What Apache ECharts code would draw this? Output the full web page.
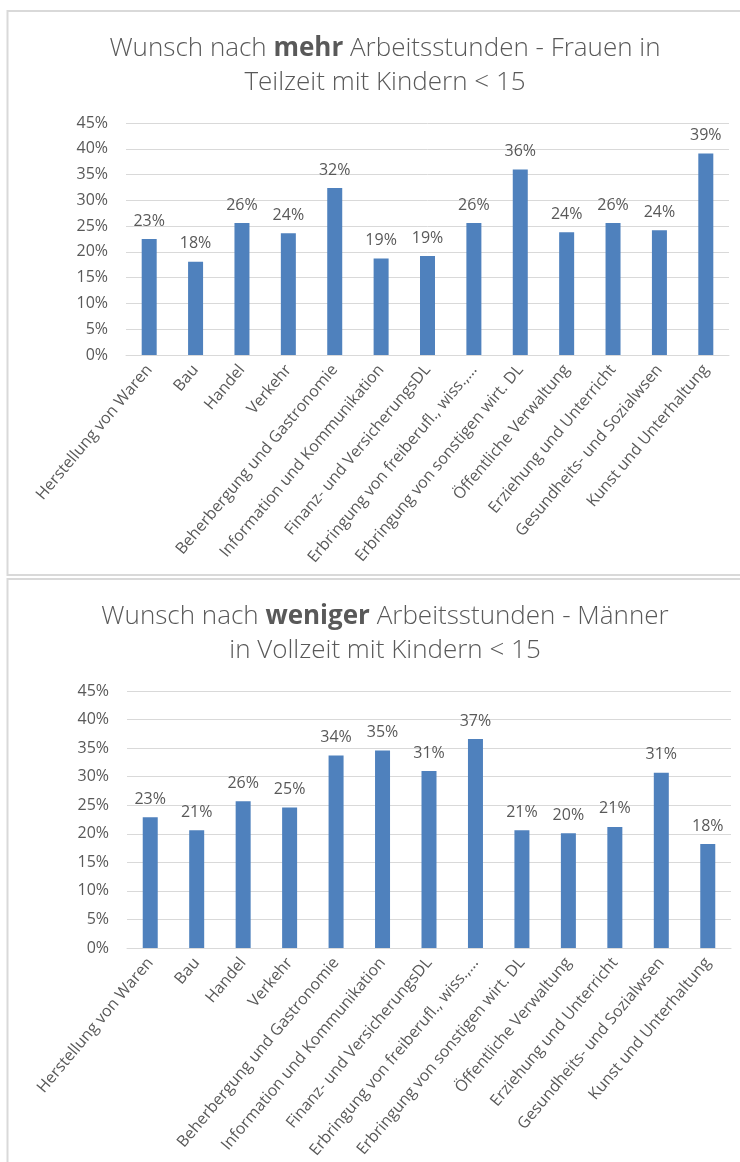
<!DOCTYPE html>
<html lang="de">
<head>
    <meta charset="UTF-8"/>
    <title>Arbeitsstunden</title>
    <script src="https://cdn.jsdelivr.net/npm/echarts@6/dist/echarts.min.js"></script>
    <style>
        html, body { margin: 0; padding: 0; background: #fff; }
    </style>
</head>
<body>
<div id="main" style="width: 740px; height: 1162px;"></div>

<script type="text/javascript">
    // Branchen (Achsenbeschriftung)
    var branchen = [
        'Herstellung von Waren',
        'Bau',
        'Handel',
        'Verkehr',
        'Beherbergung und Gastronomie',
        'Information und Kommunikation',
        'Finanz- und VersicherungsDL',
        'Erbringung von freiberufl., wiss.,…',
        'Erbringung von sonstigen wirt. DL',
        'Öffentliche Verwaltung',
        'Erziehung und Unterricht',
        'Gesundheits- und Sozialwsen',
        'Kunst und Unterhaltung'
    ];
    // Anteil in % - Frauen Teilzeit, Wunsch nach mehr Stunden
    var frauenMehr = [22.5, 18.1, 25.6, 23.6, 32.4, 18.7, 19.2, 25.6, 36.0, 23.8, 25.6, 24.2, 39.1];
    // Anteil in % - Männer Vollzeit, Wunsch nach weniger Stunden
    var maennerWeniger = [22.9, 20.6, 25.7, 24.6, 33.7, 34.6, 31.0, 36.6, 20.6, 20.1, 21.2, 30.7, 18.2];

    var schrift = '"Open Sans", "DejaVu Sans", sans-serif';
    var grau = '#595959';

    var myChart = echarts.init(document.getElementById('main'));

    function titel(fett, teil1, teil2, zeile2, top) {
        return {
            text: '{n|' + teil1 + '}{b|' + fett + '}{n|' + teil2 + '}\n{n|' + zeile2 + '}',
            left: 380,
            top: top,
            textAlign: 'center',
            textStyle: {
                rich: {
                    n: { fontFamily: schrift, fontSize: 26, fontWeight: 300, color: grau, lineHeight: 34 },
                    b: { fontFamily: schrift, fontSize: 26, fontWeight: 'bold', color: grau, lineHeight: 34 }
                }
            }
        };
    }

    function xAchse(idx) {
        return {
            type: 'category',
            gridIndex: idx,
            data: branchen,
            axisLine: { lineStyle: { color: '#d9d9d9', width: 1 } },
            axisTick: { show: false },
            axisLabel: {
                interval: 0,
                rotate: 50,
                margin: 12,
                fontFamily: schrift,
                fontSize: 16,
                color: grau
            }
        };
    }

    function yAchse(idx) {
        return {
            type: 'value',
            gridIndex: idx,
            min: 0,
            max: 45,
            interval: 5,
            axisLine: { show: false },
            axisTick: { show: false },
            splitLine: { lineStyle: { color: '#d9d9d9', width: 1 } },
            axisLabel: {
                margin: 18,
                formatter: '{value}%',
                fontFamily: schrift,
                fontSize: 16,
                color: grau
            }
        };
    }

    function serie(idx, werte) {
        return {
            type: 'bar',
            xAxisIndex: idx,
            yAxisIndex: idx,
            data: werte,
            barWidth: 15,
            itemStyle: { color: '#4f81bd' },
            label: {
                show: true,
                position: 'top',
                distance: 10,
                fontFamily: schrift,
                fontSize: 16,
                color: grau,
                formatter: function (p) {
                    return Math.round(p.value) + '%';
                }
            }
        };
    }

    var option = {
        animation: false,
        backgroundColor: '#ffffff',
        graphic: [
            { type: 'rect', shape: { x: 7.5, y: 11, width: 750, height: 564 }, style: { fill: 'none', stroke: '#d9d9d9', lineWidth: 2 } },
            { type: 'rect', shape: { x: 7.5, y: 579, width: 750, height: 600 }, style: { fill: 'none', stroke: '#d9d9d9', lineWidth: 2 } }
        ],
        title: [
            titel('mehr', 'Wunsch nach ', ' Arbeitsstunden - Frauen in', 'Teilzeit mit Kindern < 15', 27),
            titel('weniger', 'Wunsch nach ', ' Arbeitsstunden - Männer', 'in Vollzeit mit Kindern < 15', 595)
        ],
        grid: [
            { left: 126, top: 123, width: 603, height: 232 },
            { left: 127, top: 691, width: 604, height: 257 }
        ],
        xAxis: [xAchse(0), xAchse(1)],
        yAxis: [yAchse(0), yAchse(1)],
        series: [serie(0, frauenMehr), serie(1, maennerWeniger)]
    };

    myChart.setOption(option);
</script>
</body>
</html>
